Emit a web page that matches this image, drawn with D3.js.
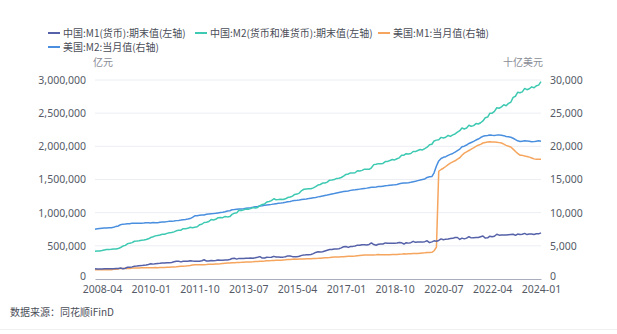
<!DOCTYPE html>
<html><head><meta charset="utf-8">
<script src="https://cdn.jsdelivr.net/npm/d3@7"></script>
<style>
body{margin:0;background:#fff;}
svg{display:block;font-family:"Noto Sans CJK SC","Noto Sans",sans-serif;}
</style></head>
<body><svg id="c" width="617" height="334"></svg>
<script>
// Monthly, 2008-01 .. 2024-01
const startMonth = "2008-01";
const xTickLabels = ["2008-04","2010-01","2011-10","2013-07","2015-04","2017-01","2018-10","2020-07","2022-04","2024-01"];
const leftTicks = [0,500000,1000000,1500000,2000000,2500000,3000000];
const rightTicks = [0,5000,10000,15000,20000,25000,30000];
const seriesNames = ["中国:M1(货币):期末值(左轴)","中国:M2(货币和准货币):期末值(左轴)","美国:M1:当月值(右轴)","美国:M2:当月值(右轴)"];
const seriesColors = ["#5561a8","#3ec9b2","#f6a55e","#4a8fdf"];

const cnM1 = [
154872,150178,150867,151694,153344,154820,153139,154111,155748,157195,157827,166217,
155889,161591,176541,178214,182350,193138,195689,200395,201708,207545,212493,220002,
229589,224286,229397,233909,236401,240581,240664,244340,243822,250000,259000,266622,
266000,258000,266255,266766,269000,274663,271000,269000,267000,267000,276000,289848,
270000,270000,277998,274000,278000,287526,281000,284000,286788,288000,294000,308664,
312000,300000,310898,309000,310000,313500,313500,315000,312300,319000,327000,337291,
314900,316600,327700,326000,327000,341500,331300,332000,327200,329700,334700,348056,
348000,337000,337200,337000,342000,356100,360000,366000,364400,369000,382000,400953,
410000,408000,411600,423000,433000,443600,445000,453000,454000,456000,469000,486557,
490000,476000,488900,491700,498000,510600,508000,516000,517000,514000,521000,543790,
520000,509000,523500,529000,528000,543900,538000,539000,538600,539000,544000,551686,
545600,527200,547600,540900,548000,567700,553000,557000,557100,556000,563000,576009,
548000,560000,575100,570000,581000,604300,591000,601000,602300,609000,613000,625581,
625600,596000,616100,605000,616000,637500,620000,623000,624600,626000,637000,647443,
616700,621000,645100,636000,645000,674400,661000,664000,664500,662000,667000,671675,
675000,657900,678100,669800,675300,687500,670000,677000,678400,670700,681000,680443,
695900];

const cnM2 = [
417846,421037,423054,429314,436221,443141,446362,448847,452898,453133,458644,475167,
496136,506708,530627,540481,548263,568916,571387,576699,585405,586643,594604,606225,
625609,636073,649947,656562,663352,673921,674051,687506,696471,699776,710339,725852,
733884,736131,758131,757385,763409,780821,772923,780853,787406,816829,825494,851591,
855898,867171,895565,889605,900049,924991,925894,924479,943688,936404,940907,974149,
992129,998600,1035858,1032552,1042169,1054403,1052212,1061256,1077379,1070242,1079257,1106525,
1123521,1131760,1160687,1168812,1182300,1209588,1194249,1197499,1202051,1199236,1209144,1228375,
1235700,1250000,1275300,1280300,1295000,1333400,1353200,1356900,1359800,1361000,1374000,1392300,
1416300,1424600,1446200,1447000,1460000,1490500,1493000,1498800,1516400,1519500,1530400,1550100,
1575900,1582900,1599600,1596300,1601400,1631300,1626900,1637200,1655700,1653400,1653400,1676800,
1724300,1729500,1739300,1737700,1742200,1770200,1772600,1786200,1801700,1795600,1813000,1826700,
1865900,1867400,1889400,1884700,1891500,1921400,1920900,1937800,1952500,1945600,1965900,1986500,
2023100,2030800,2080900,2093500,2100200,2134900,2125500,2136800,2164100,2149700,2172100,2186800,
2213000,2236000,2276200,2262100,2275500,2317800,2302500,2312300,2342800,2336200,2355400,2382900,
2431000,2441500,2497700,2499700,2527000,2581500,2574000,2595100,2626600,2612900,2647100,2664300,
2738100,2755300,2814600,2808500,2820500,2873000,2853600,2868300,2896600,2883500,2912500,2922700,
2976300];

const usM1 = [
1380,1380,1390,1390,1390,1390,1400,1390,1460,1480,1520,1600,
1580,1570,1590,1600,1640,1660,1660,1670,1680,1690,1690,1700,
1680,1710,1720,1700,1720,1730,1730,1760,1770,1800,1820,1840,
1880,1910,1940,1950,1980,2030,2110,2160,2130,2150,2150,2160,
2190,2230,2240,2240,2260,2270,2300,2350,2390,2420,2430,2460,
2460,2480,2500,2510,2530,2550,2560,2580,2590,2620,2640,2680,
2690,2720,2760,2770,2780,2800,2820,2840,2830,2880,2890,2940,
2930,2970,3000,2990,3020,3010,3020,3040,3040,3040,3080,3090,
3110,3140,3180,3200,3210,3230,3290,3310,3310,3330,3340,3340,
3390,3420,3420,3430,3470,3520,3560,3580,3600,3610,3610,3610,
3630,3640,3680,3670,3640,3650,3650,3670,3680,3680,3710,3740,
3750,3790,3760,3790,3800,3830,3830,3860,3900,3930,3940,3990,
4000,4020,4260,4800,16240,16510,16700,16960,17250,17480,17660,17820,
18060,18280,18660,18980,19170,19370,19590,19780,19980,20170,20300,20500,
20580,20660,20700,20640,20650,20610,20560,20500,20330,20150,20020,19900,
19580,19220,18930,18670,18640,18540,18480,18370,18250,18110,18060,18060,
18050];

const usM2 = [
7500,7570,7630,7660,7680,7690,7720,7730,7790,7930,7990,8190,
8270,8280,8330,8320,8420,8420,8410,8390,8400,8430,8470,8490,
8460,8500,8480,8490,8570,8590,8600,8650,8690,8720,8750,8800,
8830,8880,8940,8980,9030,9110,9290,9520,9550,9600,9650,9660,
9760,9800,9830,9860,9900,9960,10020,10070,10150,10250,10300,10430,
10460,10500,10540,10560,10600,10650,10700,10750,10820,10900,10940,11000,
11050,11110,11170,11210,11250,11300,11360,11410,11440,11490,11560,11640,
11690,11780,11830,11860,11900,11970,12030,12070,12120,12190,12260,12300,
12380,12450,12520,12600,12650,12740,12820,12880,12960,13040,13130,13180,
13230,13280,13360,13400,13440,13500,13550,13600,13650,13700,13760,13820,
13850,13880,13930,13950,14000,14050,14090,14140,14180,14210,14260,14360,
14420,14460,14480,14510,14570,14650,14730,14830,14910,15000,15080,15310,
15410,15450,16010,17040,17800,18160,18340,18440,18640,18790,18930,19120,
19350,19580,19950,20020,20200,20430,20580,20740,20950,21100,21330,21510,
21580,21620,21720,21670,21650,21690,21690,21680,21610,21490,21430,21360,
21220,21010,20830,20730,20780,20830,20800,20760,20680,20710,20780,20850,
20780];

const parseM = d3.timeParse("%Y-%m");
const fmtM = d3.timeFormat("%Y-%m");
const months = cnM2.map((_, i) => d3.timeMonth.offset(parseM(startMonth), i));

const svg = d3.select("#c");
const m = {l:95, r:541, t:80, b:279};
const x = d3.scaleTime().domain([months[0], months[months.length-1]]).range([m.l, m.r]);
const yL = d3.scaleLinear().domain([0, 3000000]).range([m.b, m.t]);
const yR = d3.scaleLinear().domain([0, 30000]).range([m.b, m.t]);
const fmtN = d3.format(",");

// grid
svg.append("g").selectAll("line").data(leftTicks.slice(1)).join("line")
  .attr("x1", m.l).attr("x2", m.r)
  .attr("y1", d => yL(d)).attr("y2", d => yL(d))
  .attr("stroke", "#eceef4").attr("stroke-width", 1);

// left axis
const gL = svg.append("g").attr("transform", `translate(${m.l},0)`)
  .call(d3.axisLeft(yL).tickValues(leftTicks).tickFormat(fmtN).tickSize(0).tickPadding(9));
gL.select(".domain").remove();
gL.selectAll("text").attr("fill", "#555a66").attr("font-size", 10.5).attr("font-family", "Noto Sans, sans-serif");
gL.selectAll("text").filter(d => d === 0).attr("dy", "0em");

// right axis
const gR = svg.append("g").attr("transform", `translate(${m.r},0)`)
  .call(d3.axisRight(yR).tickValues(rightTicks).tickFormat(fmtN).tickSize(0).tickPadding(9));
gR.select(".domain").remove();
gR.selectAll("text").attr("fill", "#555a66").attr("font-size", 10.5).attr("font-family", "Noto Sans, sans-serif");
gR.selectAll("text").filter(d => d === 0).attr("dy", "0em");

// x axis
const xTicks = xTickLabels.map(parseM);
const gX = svg.append("g").attr("transform", `translate(0,${m.b})`)
  .call(d3.axisBottom(x).tickValues(xTicks).tickFormat(fmtM).tickSize(0).tickPadding(6.5));
gX.select(".domain").attr("stroke", "#a9adbd");
gX.selectAll("text").attr("fill", "#555a66").attr("font-size", 10.5).attr("font-family", "Noto Sans, sans-serif");

// unit labels
svg.append("text").attr("x", 93).attr("y", 66).attr("font-size", 10).attr("fill", "#8a8d96").text("亿元");
svg.append("text").attr("x", 543).attr("y", 66).attr("text-anchor", "end").attr("font-size", 10).attr("fill", "#8a8d96").text("十亿美元");

// lines
const series = [
  {vals: cnM1, y: yL}, {vals: cnM2, y: yL}, {vals: usM1, y: yR}, {vals: usM2, y: yR}
];
const drawOrder = [2, 0, 3, 1];
drawOrder.forEach(i => {
  const s = series[i];
  svg.append("path").datum(s.vals)
    .attr("fill", "none").attr("stroke", seriesColors[i]).attr("stroke-width", 1.5)
    .attr("stroke-linejoin", "round")
    .attr("d", d3.line().x((d, j) => x(months[j])).y(d => s.y(d)));
});

// legend
const legPos = [[48,33],[195,33],[378,33],[48,47]];
seriesNames.forEach((n, i) => {
  const g = svg.append("g").attr("transform", `translate(${legPos[i][0]},${legPos[i][1]})`);
  g.append("line").attr("x1", 0).attr("x2", 12).attr("y1", 0).attr("y2", 0)
    .attr("stroke", seriesColors[i]).attr("stroke-width", 2);
  g.append("text").attr("x", 15).attr("y", 0).attr("dy", "0.35em")
    .attr("font-size", 10).attr("fill", "#4a4d57").text(n);
});

// footer
svg.append("text").attr("x", 10).attr("y", 316).attr("font-size", 10).attr("fill", "#4a4d57").text("数据来源：同花顺iFinD");
svg.append("line").attr("x1", 0).attr("x2", 617).attr("y1", 329.5).attr("y2", 329.5).attr("stroke", "#f0f0f0");
</script></body></html>
